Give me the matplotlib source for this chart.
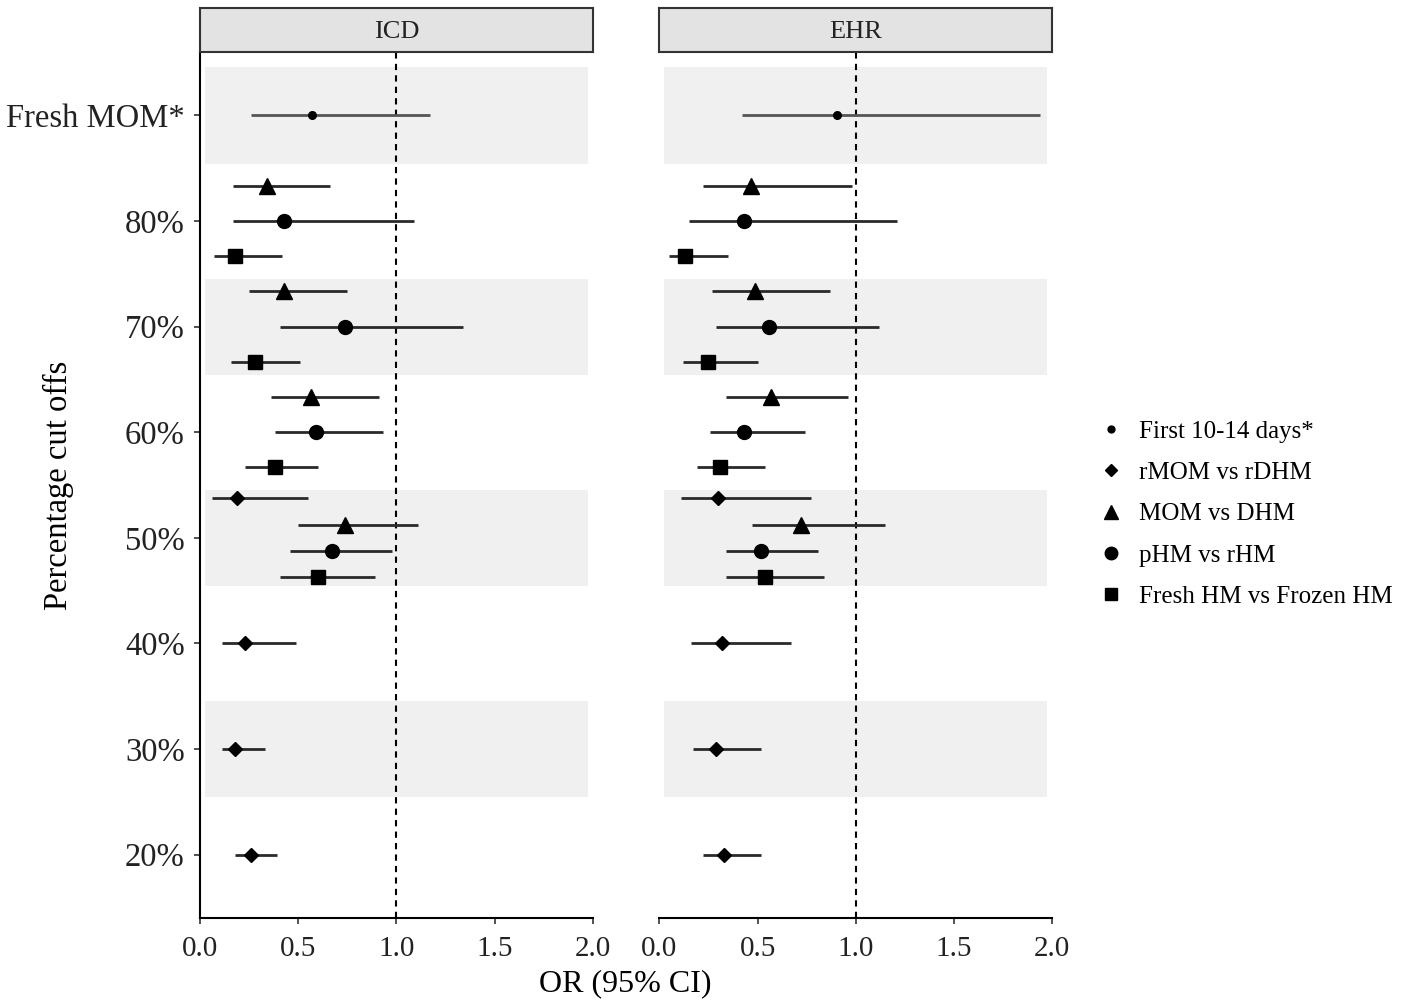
import numpy as np
import matplotlib
matplotlib.use("Agg")
import matplotlib.pyplot as plt
from matplotlib.lines import Line2D
from matplotlib.patches import Rectangle

plt.rcParams['font.family'] = ['Liberation Serif', 'DejaVu Serif']

groups = ["20%", "30%", "40%", "50%", "60%", "70%", "80%", "Fresh MOM*"]
shaded = ["30%", "50%", "70%", "Fresh MOM*"]
series = ["First 10-14 days*", "rMOM vs rDHM", "MOM vs DHM", "pHM vs rHM", "Fresh HM vs Frozen HM"]
markers = ["o", "D", "^", "o", "s"]
msizes = [5.5, 7, 11, 10, 10]

# groups each series appears in
series_groups = {
    "First 10-14 days*": ["Fresh MOM*"],
    "rMOM vs rDHM": ["20%", "30%", "40%", "50%"],
    "MOM vs DHM": ["50%", "60%", "70%", "80%"],
    "pHM vs rHM": ["50%", "60%", "70%", "80%"],
    "Fresh HM vs Frozen HM": ["50%", "60%", "70%", "80%"],
}

# ICD: odds ratio, lower, upper (same order as series_groups)
icd_or = {
    "First 10-14 days*": [0.57],
    "rMOM vs rDHM": [0.26, 0.18, 0.23, 0.19],
    "MOM vs DHM": [0.74, 0.565, 0.43, 0.34],
    "pHM vs rHM": [0.67, 0.59, 0.74, 0.43],
    "Fresh HM vs Frozen HM": [0.60, 0.38, 0.28, 0.18],
}
icd_lo = {
    "First 10-14 days*": [0.26],
    "rMOM vs rDHM": [0.18, 0.11, 0.11, 0.06],
    "MOM vs DHM": [0.50, 0.36, 0.25, 0.17],
    "pHM vs rHM": [0.46, 0.38, 0.41, 0.17],
    "Fresh HM vs Frozen HM": [0.41, 0.23, 0.16, 0.07],
}
icd_hi = {
    "First 10-14 days*": [1.17],
    "rMOM vs rDHM": [0.39, 0.33, 0.49, 0.55],
    "MOM vs DHM": [1.11, 0.91, 0.75, 0.66],
    "pHM vs rHM": [0.98, 0.93, 1.34, 1.09],
    "Fresh HM vs Frozen HM": [0.89, 0.60, 0.51, 0.42],
}

# EHR
ehr_or = {
    "First 10-14 days*": [0.905],
    "rMOM vs rDHM": [0.33, 0.29, 0.32, 0.30],
    "MOM vs DHM": [0.72, 0.57, 0.485, 0.465],
    "pHM vs rHM": [0.52, 0.43, 0.56, 0.43],
    "Fresh HM vs Frozen HM": [0.54, 0.31, 0.25, 0.13],
}
ehr_lo = {
    "First 10-14 days*": [0.42],
    "rMOM vs rDHM": [0.22, 0.17, 0.16, 0.11],
    "MOM vs DHM": [0.47, 0.34, 0.27, 0.22],
    "pHM vs rHM": [0.34, 0.26, 0.29, 0.15],
    "Fresh HM vs Frozen HM": [0.34, 0.19, 0.12, 0.05],
}
ehr_hi = {
    "First 10-14 days*": [1.94],
    "rMOM vs rDHM": [0.52, 0.52, 0.67, 0.77],
    "MOM vs DHM": [1.15, 0.96, 0.87, 0.98],
    "pHM vs rHM": [0.81, 0.74, 1.12, 1.21],
    "Fresh HM vs Frozen HM": [0.84, 0.54, 0.50, 0.35],
}

panels = [("ICD", icd_or, icd_lo, icd_hi), ("EHR", ehr_or, ehr_lo, ehr_hi)]

fig = plt.figure(figsize=(14.18, 10.08), dpi=100)
ax_left = [0.141, 0.465]
ax_w = 0.277
ax_b, ax_h = 0.0893, 0.859
strip_h = 0.0437

# which series are present in each group, for dodging
members = {g: [s for s in series if g in series_groups[s]] for g in groups}

for k, (name, d_or, d_lo, d_hi) in enumerate(panels):
    ax = fig.add_axes([ax_left[k], ax_b, ax_w, ax_h])
    ax.set_xlim(0, 2)
    ax.set_ylim(0.4, 8.6)
    for g in shaded:
        yc = groups.index(g) + 1
        ax.add_patch(Rectangle((0.025, yc - 0.455), 1.95, 0.91,
                               facecolor="#f0f0f0", edgecolor="none", zorder=0))
    ax.axvline(1.0, color="black", linestyle=(0, (3, 2.5)), linewidth=1.5, zorder=1)

    for si, s in enumerate(series):
        for j, g in enumerate(series_groups[s]):
            m = members[g]
            n = len(m)
            i = m.index(s)
            y = groups.index(g) + 1 + ((n - 1) / 2 - i) / n
            col = "#555555" if s == "First 10-14 days*" else "#2a2a2a"
            ax.plot([d_lo[s][j], d_hi[s][j]], [y, y], color=col, linewidth=2.0, zorder=2,
                    solid_capstyle="butt")
            ax.plot(d_or[s][j], y, marker=markers[si], markersize=msizes[si],
                    color="black", linestyle="none", zorder=3)

    for sp in ["top", "right"]:
        ax.spines[sp].set_visible(False)
    for sp in ["left", "bottom"]:
        ax.spines[sp].set_linewidth(1.5)
    ax.set_xticks([0.0, 0.5, 1.0, 1.5, 2.0])
    ax.set_xticklabels(["0.0", "0.5", "1.0", "1.5", "2.0"], fontsize=21, color="#222222")
    ax.tick_params(axis="x", length=4, width=1.2, color="#333333", pad=9)
    ax.tick_params(axis="y", length=4, width=1.2, color="#333333", pad=7)
    ax.set_yticks(np.arange(1, len(groups) + 1))
    if k == 0:
        ax.set_yticklabels(groups, fontsize=23.5, color="#222222")
    else:
        ax.set_yticklabels([])
        ax.tick_params(axis="y", length=0)
        ax.spines["left"].set_visible(False)
        ax.spines["bottom"].set_bounds(0, 2)

    sax = fig.add_axes([ax_left[k], ax_b + ax_h, ax_w, strip_h])
    sax.set_xticks([])
    sax.set_yticks([])
    sax.set_facecolor("#e3e3e3")
    for sp in sax.spines.values():
        sp.set_linewidth(1.5)
        sp.set_color("#333333")
    sax.text(0.5, 0.45, name, ha="center", va="center", fontsize=19,
             transform=sax.transAxes, color="#222222")

fig.text(0.441, 0.024, "OR (95% CI)", ha="center", va="center", fontsize=23)
fig.text(0.041, 0.518, "Percentage cut offs", ha="center", va="center", rotation=90, fontsize=23.5)

handles = [Line2D([], [], marker=markers[i], markersize=msizes[i] * 0.9, color="black",
                  linestyle="none") for i in range(len(series))]
fig.legend(handles, series, loc="center left", bbox_to_anchor=(0.762, 0.49),
           frameon=False, fontsize=18, handletextpad=0.35, handlelength=1.6,
           labelspacing=0.75, borderaxespad=0)

fig.savefig("out.png", dpi=100)
